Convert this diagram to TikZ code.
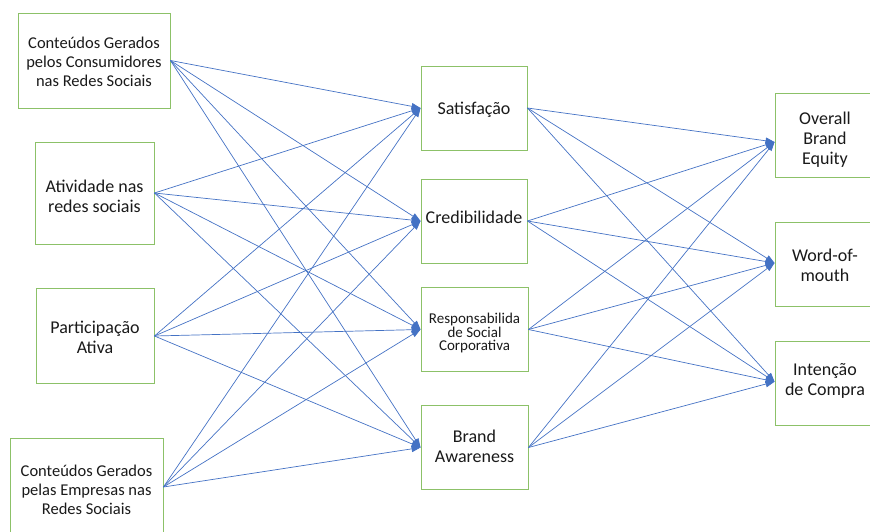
\documentclass[tikz,border=0pt]{standalone}
\usepackage{fontspec}
\setmainfont{Carlito}
\usetikzlibrary{arrows.meta}
\definecolor{bgreen}{HTML}{8CC168}
\definecolor{ablue}{HTML}{4472C4}
\definecolor{txt}{HTML}{1A1A1A}
\newcommand\myfsA{\fontsize{18}{19.8}\selectfont\lineskiplimit=-5pt\relax}
\newcommand\myfsB{\fontsize{16.5}{19}\selectfont\lineskiplimit=-5pt\relax}
\newcommand\myfsC{\fontsize{15}{13.3}\selectfont\lineskiplimit=-5pt\relax}
\newcommand\myfsD{\fontsize{18}{20}\selectfont\lineskiplimit=-5pt\relax}
\begin{document}
\begin{tikzpicture}[x=1pt,y=-1pt,
 box/.style={draw=bgreen, line width=0.9pt, inner sep=0pt, fill=white},
 lbl/.style={align=center, inner sep=0pt, text=txt, font=\myfsA},
 conn/.style={draw=ablue, line width=0.7pt, -{Triangle[length=9pt,width=6.5pt]}}]
\useasboundingbox (0,0) rectangle (870,532);
\clip (0,0) rectangle (870,532);
% left column
\node[box, minimum width=152, minimum height=95] (l1) at (94,60.5) {};
\node[lbl, font=\myfsB] (l1t) at (94,61.5) {Conteúdos Gerados\\pelos Consumidores\\nas Redes Sociais};
\node[box, minimum width=119, minimum height=102] (l2) at (94.5,193) {};
\node[lbl] (l2t) at (94.5,196.5) {Atividade nas\\redes sociais};
\node[box, minimum width=118, minimum height=95] (l3) at (95,336) {};
\node[lbl] (l3t) at (95,337.5) {Participação\\Ativa};
\node[box, minimum width=153, minimum height=98] (l4) at (86.5,487) {};
\node[lbl, font=\myfsB] (l4t) at (86.5,489.5) {Conteúdos Gerados\\pelas Empresas nas\\Redes Sociais};
% middle column
\node[box, minimum width=106, minimum height=84] (m1) at (474,108) {};
\node[lbl] (m1t) at (474,110) {Satisfação};
\node[box, minimum width=106, minimum height=84] (m2) at (474,221) {};
\node[lbl] (m2t) at (474,217) {Credibilidade};
\node[box, minimum width=107, minimum height=84] (m3) at (474.5,329.5) {};
\node[lbl, font=\myfsC] (m3t) at (474.5,333) {Responsabilida\\de Social\\Corporativa};
\node[box, minimum width=107, minimum height=84] (m4) at (474.5,447.5) {};
\node[lbl] (m4t) at (474.5,446.5) {Brand\\Awareness};
% right column
\node[box, minimum width=100, minimum height=84] (r1) at (825,135) {};
\node[lbl, font=\myfsD] (r1t) at (825,140) {Overall\\Brand\\Equity};
\node[box, minimum width=100, minimum height=84] (r2) at (825,264.5) {};
\node[lbl] (r2t) at (825,265.5) {Word-of-\\mouth};
\node[box, minimum width=100, minimum height=84] (r3) at (825,383) {};
\node[lbl] (r3t) at (825,381) {Intenção\\de Compra};
% connectors left -> middle
\foreach \a in {l1,l2,l3,l4}{
  \foreach \b in {m1,m2,m3,m4}{
    \draw[conn] (\a.east) -- (\b.west);
  }
}
% connectors middle -> right
\foreach \a in {m1,m2,m3,m4}{
  \draw[conn] (\a.east) -- ([yshift=-7pt]r1.west);
  \draw[conn] (\a.east) -- ([yshift=1.5pt]r2.west);
  \draw[conn] (\a.east) -- ([yshift=1.3pt]r3.west);
}
\end{tikzpicture}
\end{document}
